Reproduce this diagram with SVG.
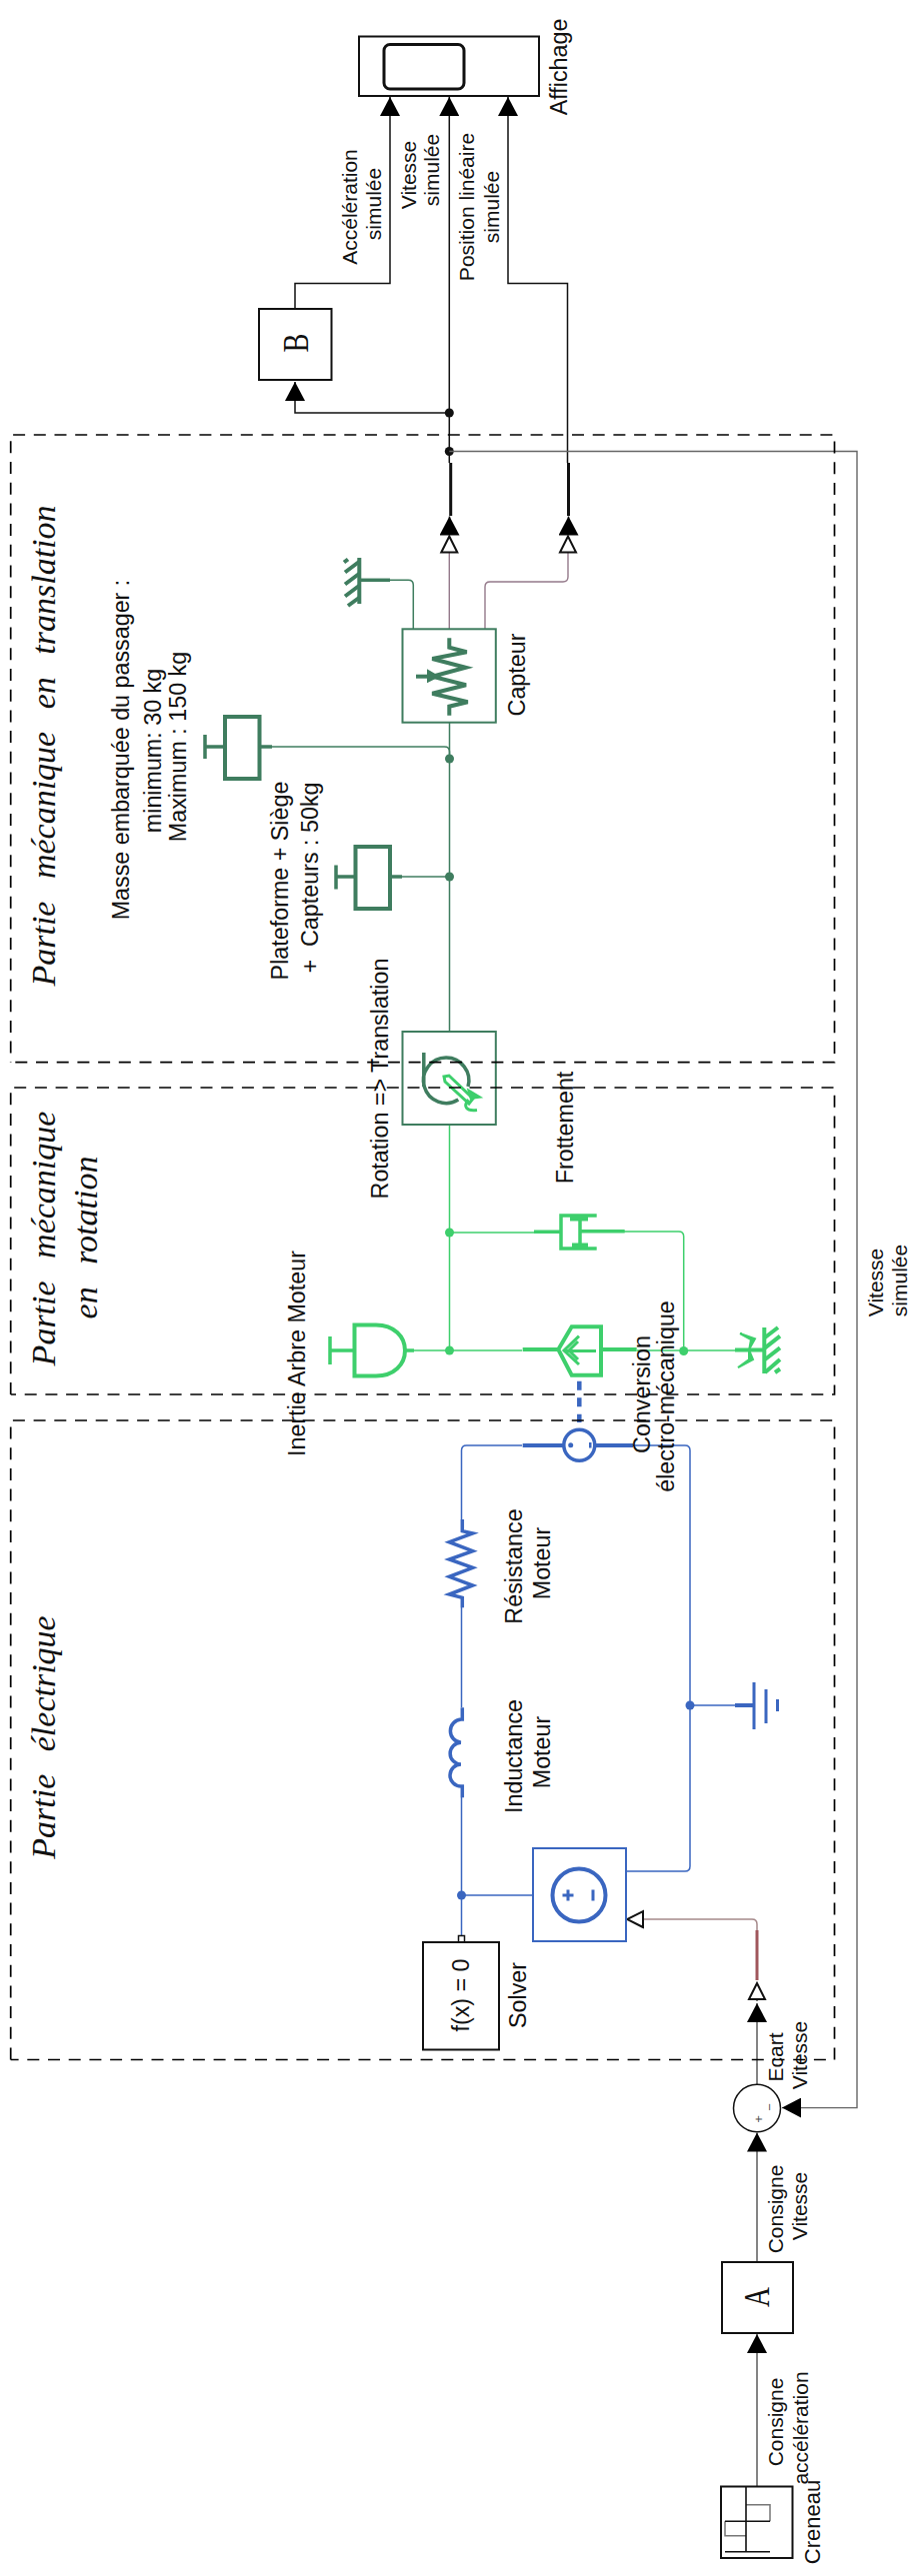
<svg xmlns="http://www.w3.org/2000/svg" width="920" height="2577" viewBox="0 0 920 2577">
<style>
.bg{fill:#fff}
text{font-family:"Liberation Sans",Arial,sans-serif;font-size:23.3px;fill:#111;text-anchor:middle;white-space:pre}
text.s{font-size:21px}
text.title{font-family:"Liberation Serif","Times New Roman",serif;font-style:italic;font-size:34px;word-spacing:14px}
text.letter{font-family:"Liberation Serif","Times New Roman",serif;font-size:36px}
text.sign{font-size:13px;fill:#555}
.box{fill:none;stroke:#111;stroke-width:2}
.wire,.icon,.dash{fill:none}
.k{stroke:#111;stroke-width:1.5}
.g{stroke:#777;stroke-width:1.8}
.p{stroke:#94798a;stroke-width:1.4}
.r{stroke:#a5898a;stroke-width:1.5}
.rt{stroke:#a0575c;stroke-width:3}
.bw{stroke:#3a66c0;stroke-width:1.5}
.dw{stroke:#3f7d5f;stroke-width:1.5}
.lw{stroke:#3ecf6c;stroke-width:1.5}
.dbox{fill:none;stroke:#3f7d5f;stroke-width:2}
.dico{fill:none;stroke:#3f7d5f;stroke-width:4}
.lico{fill:none;stroke:#3ecf6c;stroke-width:4}
.bico{fill:none;stroke:#3a66c0;stroke-width:4}
.bbox{fill:none;stroke:#3a66c0;stroke-width:2}
.dash{stroke:#000;stroke-width:1.7;stroke-dasharray:12 8.7}
.kd{fill:#111}.dd{fill:#3f7d5f}.ld{fill:#3ecf6c}.bd{fill:#3a66c0}
</style>
<defs>
<marker id="fa" markerUnits="userSpaceOnUse" markerWidth="19" markerHeight="20" viewBox="0 0 19 20" refX="19" refY="10" orient="auto"><polygon points="0,0 19,10 0,20" fill="#000"/></marker>
<marker id="oa" markerUnits="userSpaceOnUse" markerWidth="20" markerHeight="20" viewBox="0 0 20 20" refX="18" refY="10" orient="auto"><polygon points="2,2 18,10 2,18" fill="#fff" stroke="#111" stroke-width="2"/></marker>
</defs>
<rect class="bg" width="920" height="2577"/>

<g id="connectors">
<path class="wire k" d="M295,309V283.6H390V97" marker-end="url(#fa)"/>
<path class="wire k" d="M449.3,463V97" marker-end="url(#fa)"/>
<path class="wire k" d="M449.3,413H295V382" marker-end="url(#fa)"/>
<path class="wire k" d="M567.5,463V283.6H508V97" marker-end="url(#fa)"/>
<circle class="kd" cx="449.3" cy="413" r="4.5"/>
<circle class="kd" cx="449.3" cy="451.5" r="4.5"/>
<path class="wire k" style="stroke-width:3" d="M450.7,516V463"/>
<path class="wire k" style="stroke-width:3" d="M568.5,516V463"/>
<path class="wire k" d="M449.5,535V516.5" marker-end="url(#fa)"/>
<path class="wire k" d="M568.5,535V516.5" marker-end="url(#fa)"/>
<path class="wire p" d="M449.3,629V536.5" marker-end="url(#oa)"/>
<path class="wire p" d="M485,629V587Q485,582 490,582H563Q568,582 568,577V536.5" marker-end="url(#oa)"/>
<path class="wire" stroke="#666" stroke-width="1.4" d="M449.3,451.5H857V2108.6H782" marker-end="url(#fa)"/>
<path class="wire g" d="M757,2488V2335" marker-end="url(#fa)"/>
<path class="wire g" d="M757,2263V2133.5" marker-end="url(#fa)"/>
<path class="wire g" d="M757,2085V2004" marker-end="url(#fa)"/>
<path class="wire g" d="M757,2002V1984" marker-end="url(#oa)"/>
<path class="wire r" d="M757,1931V1925Q757,1920 752,1920H627" marker-end="url(#oa)"/>
<path class="wire rt" d="M757,1981V1931"/>

<path class="wire bw" d="M522,1446H466.5Q461.5,1446 461.5,1451V1520"/>
<path class="wire bw" d="M461.5,1608V1708"/>
<path class="wire bw" d="M461.5,1798V1937"/>
<path class="wire bw" d="M461.5,1896H533"/>
<path class="wire bw" d="M633,1446H685Q690,1446 690,1451V1867Q690,1872 685,1872H626"/>
<path class="wire bw" d="M690,1706H735"/>
<circle class="bd" cx="461.5" cy="1896" r="4.5"/>
<circle class="bd" cx="690" cy="1706" r="4.5"/>
<path class="wire bw" style="stroke-width:4.5;stroke-dasharray:9 7.5" d="M579.3,1381.7V1423"/>

<path class="wire dw" d="M449.5,723V1032"/>
<path class="wire dw" d="M449.5,759V752Q449.5,747 444.5,747H272"/>
<path class="wire dw" d="M449.5,877H402"/>
<path class="wire dw" d="M413.3,629V585.3Q413.3,580.3 408.3,580.3H390"/>
<circle class="dd" cx="449.5" cy="759" r="4.5"/>
<circle class="dd" cx="449.5" cy="877" r="4.5"/>

<path class="wire lw" d="M449.5,1125V1351"/>
<path class="wire lw" d="M449.5,1233H534"/>
<path class="wire lw" d="M624,1232H678.7Q683.7,1232 683.7,1237V1351"/>
<path class="wire lw" d="M414,1351H522"/>
<path class="wire lw" d="M637,1351H735"/>
<circle class="ld" cx="449.5" cy="1233" r="4.5"/>
<circle class="ld" cx="449.5" cy="1351" r="4.5"/>
<circle class="ld" cx="683.7" cy="1351.5" r="4.5"/>
</g>

<g id="affichage">
<rect class="box" x="359" y="36.5" width="180" height="59.5"/>
<rect x="384" y="44.5" width="80" height="44.5" rx="6" fill="none" stroke="#111" stroke-width="3"/>
<text transform="translate(567,67) rotate(-90)">Affichage</text>
</g>
<g id="bloc-b">
<rect class="box" x="259" y="309" width="72.5" height="71"/>
<text class="letter" transform="translate(308,343) rotate(-90)" textLength="19" lengthAdjust="spacingAndGlyphs">B</text>
</g>
<g id="label-acceleration">
<text class="s" transform="translate(357,207) rotate(-90)">Accélération</text>
<text class="s" transform="translate(381,204) rotate(-90)">simulée</text>
</g>
<g id="label-vitesse">
<text class="s" transform="translate(415.5,175) rotate(-90)">Vitesse</text>
<text class="s" transform="translate(439,170) rotate(-90)">simulée</text>
</g>
<g id="label-position">
<text class="s" transform="translate(474,207) rotate(-90)">Position linéaire</text>
<text class="s" transform="translate(499,207) rotate(-90)">simulée</text>
</g>

<g id="reference-translation">
<path class="dico" d="M359.3,558V604"/>
<path class="dico" d="M359.3,580.3H390" style="stroke-width:3.5"/>
<path class="dico" d="M348,559.5L344,562.5M359,562L345,572.5M359,574L345,584.5M359,586L345,596.5M359,598L348,606"/>
</g>
<g id="capteur">
<rect class="dbox" x="402.5" y="629.3" width="93.3" height="93.4"/>
<polyline class="dico" points="449.3,638.3 449.3,647.7 466.7,652.3 432.3,659 465.7,667.7 432.3,676.7 466,685.3 432.3,693.7 467.7,702.3 449.3,706.7 449.3,715.7"/>
<path class="dico" d="M416,676.7H427"/>
<polygon points="427,669.3 427,683.3 440,676.7" fill="#3f7d5f"/>
<text transform="translate(524.5,675) rotate(-90)">Capteur</text>
</g>
<g id="masse-passager">
<rect class="dico" x="225" y="717" width="34.5" height="62"/>
<path class="dico" d="M205,747H225M205,735V759M259.5,747H272" style="stroke-width:3.5"/>
<text transform="translate(129,750) rotate(-90)">Masse embarquée du passager :</text>
<text transform="translate(161,751) rotate(-90)">minimum: 30 kg</text>
<text transform="translate(186,747) rotate(-90)">Maximum : 150 kg</text>
</g>
<g id="masse-plateforme">
<rect class="dico" x="355.5" y="847" width="34.5" height="62"/>
<path class="dico" d="M336,877H355.5M336,865.5V889.5M390,877H402" style="stroke-width:3.5"/>
<text transform="translate(288,881) rotate(-90)">Plateforme + Siège</text>
<text transform="translate(318,878) rotate(-90)">+  Capteurs : 50kg</text>
</g>
<g id="rotation-translation">
<rect class="dbox" x="402.5" y="1032" width="93.3" height="93"/>
<path class="dico" style="stroke-width:3.5" d="M423.8,1053V1087M458.3,1100A22.7,22.7 0 1 1 468,1087"/>
<path class="lico" style="stroke-width:3" d="M444,1077L449,1076L473,1099L469,1104L445,1082Z"/>
<path class="lico" style="stroke-width:3" d="M468.3,1100C463,1107 466,1112 477,1110.5"/>
<polygon points="466.7,1088.3 483.3,1098.3 470,1100" fill="#3ecf6c"/>
<text transform="translate(388,1079) rotate(-90)">Rotation =&gt; Translation</text>
</g>
<g id="frottement">
<path class="lico" style="stroke-width:3.5" d="M596.7,1216H561V1249H596.7"/>
<path class="lico" d="M534,1232.3H561M580,1218V1247M580,1231.7H624.7" style="stroke-width:3.5"/>
<path class="lico" style="stroke-width:5" d="M570,1219H588M572,1246H588"/>
<text transform="translate(573,1128) rotate(-90)">Frottement</text>
</g>
<g id="inertie">
<path class="lico" d="M354.5,1325.5H376C394,1325.5 405,1337 405,1351C405,1365 394,1376.5 376,1376.5H354.5Z"/>
<path class="lico" d="M330,1351H354.5M330,1337V1365M405,1351H414" style="stroke-width:3.5"/>
<text transform="translate(304.5,1354) rotate(-90)">Inertie Arbre Moteur</text>
</g>
<g id="conversion">
<polygon class="lico" points="558.3,1350 571.7,1327.3 601,1327.3 601,1375.7 571.7,1375.7"/>
<path class="lico" d="M522.7,1350H558.3M601.7,1350H636.7"/>
<path class="lico" style="stroke-width:3" d="M596,1351.5H565M579,1336.7L564,1351L579,1365M578,1342L569,1351L578,1360"/>
<circle class="bico" style="stroke-width:3.5" cx="579.3" cy="1445.7" r="15.5"/>
<circle class="bd" cx="570.7" cy="1445.7" r="2.5"/>
<rect class="bd" x="589" y="1443" width="2.5" height="5.5"/>
<path class="bico" d="M522.7,1446H563M596,1446H633"/>
<text transform="translate(650,1395) rotate(-90)">Conversion</text>
<text transform="translate(674,1397) rotate(-90)">électro-mécanique</text>
</g>
<g id="reference-rotation">
<path class="lico" d="M735,1350.5H765M764.3,1328V1374"/>
<path class="lico" d="M765,1338L778,1328M765,1348.3L780,1336.7M765,1360L780,1348.3M765,1373L780,1360M775,1373L780,1369.5"/>
<path d="M740,1334L755,1339.3L749.3,1349.5L751,1340ZM738,1368L753,1360L749,1350.5L749,1360Z" fill="#3ecf6c" stroke="#3ecf6c" stroke-width="2"/>
</g>
<g id="resistance">
<polyline class="bico" style="stroke-width:3.5" points="462.3,1520 462.3,1531.7 472.7,1534 449.3,1542.7 472.7,1551.7 449.3,1560 472.7,1568.3 449.3,1577.3 472.7,1586 449.3,1595 462.3,1598.3 462.3,1608.3"/>
<text transform="translate(521.5,1567) rotate(-90)">Résistance</text>
<text transform="translate(550,1564) rotate(-90)">Moteur</text>
</g>
<g id="inductance">
<path class="bico" style="stroke-width:3.5" d="M462.3,1708.3V1720H461A11.7,11.7 0 0 0 461,1743.3A10.8,10.8 0 0 0 461,1765A11,11 0 0 0 461,1787H462.3V1798.3"/>
<text transform="translate(521.5,1757) rotate(-90)">Inductance</text>
<text transform="translate(550,1753) rotate(-90)">Moteur</text>
</g>
<g id="terre">
<path class="bico" d="M735,1706H754"/>
<path class="bico" style="stroke-width:3" d="M754,1683V1730M766,1690V1724M777.5,1700V1712"/>
</g>
<g id="source">
<rect class="bbox" x="533" y="1849" width="93" height="93"/>
<circle class="bico" cx="579" cy="1896" r="26.5"/>
<path class="bico" style="stroke-width:3" d="M562.5,1896H573.5M568,1890.5V1901.5M593,1890.5V1901.5"/>
</g>
<g id="solver">
<rect x="458.5" y="1936.5" width="6" height="6.5" fill="#fff" stroke="#111" stroke-width="1.5"/>
<rect class="box" x="423" y="1943" width="76" height="107.5"/>
<text transform="translate(469,1996) rotate(-90)">f(x) = 0</text>
<text transform="translate(526,1996) rotate(-90)">Solver</text>
</g>
<g id="sum">
<ellipse cx="757" cy="2109" rx="23.5" ry="23.7" fill="none" stroke="#111" stroke-width="1.5"/>
<text class="sign" transform="translate(763,2120) rotate(-90)">+</text>
<text class="sign" transform="translate(774,2108) rotate(-90)">−</text>
</g>
<g id="label-ecart">
<text class="s" transform="translate(783,2058) rotate(-90)">Ecart</text>
<text class="s" transform="translate(807,2056) rotate(-90)">Vitesse</text>
</g>
<g id="bloc-a">
<rect class="box" x="722" y="2263" width="71" height="71"/>
<text class="letter" transform="translate(769,2298) rotate(-90)" textLength="20" lengthAdjust="spacingAndGlyphs">A</text>
</g>
<g id="label-consigne-vitesse">
<text class="s" transform="translate(783,2210) rotate(-90)">Consigne</text>
<text class="s" transform="translate(807,2207) rotate(-90)">Vitesse</text>
</g>
<g id="label-consigne-acceleration">
<text class="s" transform="translate(783,2423) rotate(-90)">Consigne</text>
<text class="s" transform="translate(808,2429) rotate(-90)">accélération</text>
</g>
<g id="creneau">
<rect class="box" x="721" y="2487.5" width="71.5" height="71.5"/>
<path fill="none" stroke="#777" stroke-width="1.5" d="M746,2505.7H770V2522.3M725,2522.3V2536.7H746"/>
<path fill="none" stroke="#111" stroke-width="1.6" d="M746,2488V2553M725,2552.7H770M725,2522.3H770"/>
<text style="font-size:22px" transform="translate(820,2523) rotate(-90)">Creneau</text>
</g>
<g id="label-vitesse-retour">
<text class="s" transform="translate(883,1283) rotate(-90)">Vitesse</text>
<text class="s" transform="translate(907,1281) rotate(-90)">simulée</text>
</g>

<g id="partie-translation">
<path class="dash" d="M15.3,1062.7H834.5V435H10.7V1062.7"/>
<text class="title" transform="translate(55,746) rotate(-90)">Partie mécanique en translation</text>
</g>
<g id="partie-rotation">
<path class="dash" d="M10.7,1395V1088H834.5V1395H10.7"/>
<text class="title" transform="translate(55,1239) rotate(-90)">Partie mécanique</text>
<text class="title" transform="translate(97,1238) rotate(-90)">en rotation</text>
</g>
<g id="partie-electrique">
<path class="dash" d="M10.7,2060.5V1421H834.5V2060.5H10.7"/>
<text class="title" transform="translate(55,1738) rotate(-90)">Partie électrique</text>
</g>
</svg>
